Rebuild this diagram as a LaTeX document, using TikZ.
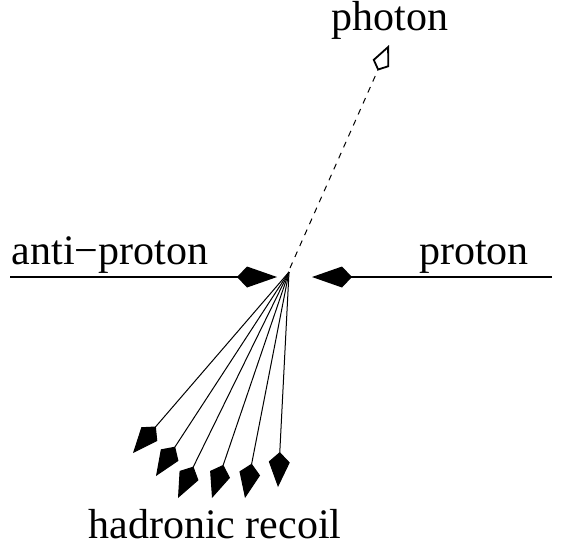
\documentclass[tikz,border=0pt]{standalone}
\usepackage{fontspec}
\setmainfont{Liberation Serif}
\usetikzlibrary{arrows.meta}
\begin{document}
\begin{tikzpicture}[x=0.5pt,y=-0.5pt,
  lbl/.style={anchor=base,inner sep=0pt,font=\fontsize{21}{25}\selectfont},
  beam/.style={line width=0.75pt,-{Kite[length=20pt,width=10.5pt,inset=5pt]}},
  hadron/.style={line width=0.5pt,-{Kite[length=17.5pt,width=10.5pt,inset=5pt]}},
  phot/.style={line width=0.5pt,dash pattern=on 3pt off 3pt,-{Kite[open,length=14pt,width=9pt,inset=4pt,line width=0.9pt]}}]
\useasboundingbox (0,0) rectangle (566,548);
\coordinate (c) at (289,272);
\coordinate (L) at (10,277);
\coordinate (Ltip) at (277,277);
\coordinate (R) at (552,277);
\coordinate (Rtip) at (312,277);
\coordinate (g) at (290,268);
\coordinate (gtip) at (389,45);
\coordinate (h1) at (133,453);
\coordinate (h2) at (156,476);
\coordinate (h3) at (178,498);
\coordinate (h4) at (212,498);
\coordinate (h5) at (245,498);
\coordinate (h6) at (278,487);
\node[lbl] (tphot) at (390,30) {photon};
\node[lbl] (tanti) at (110,264) {anti−proton};
\node[lbl] (tprot) at (474,264) {proton};
\node[lbl] (thad) at (215,538) {hadronic recoil};
\draw[beam] (L) -- (Ltip);
\draw[beam] (R) -- (Rtip);
\draw[phot] (g) -- (gtip);
\foreach \h in {h1,h2,h3,h4,h5,h6}
  \draw[hadron] (c) -- (\h);
\end{tikzpicture}
\end{document}
